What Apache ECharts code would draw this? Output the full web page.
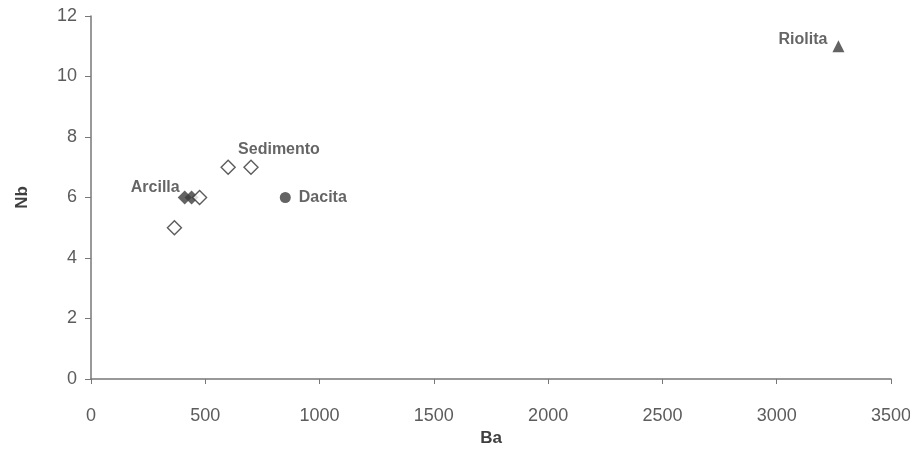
<!DOCTYPE html>
<html><head><meta charset="utf-8">
<script src="https://cdn.jsdelivr.net/npm/echarts@6/dist/echarts.min.js"></script>
<style>html,body{margin:0;padding:0;background:#fff}#c{width:910px;height:472px}</style>
</head><body><div id="c"></div>
<script>
// Data
const sedimentoBa = [365, 475, 600, 700];
const sedimentoNb = [5, 6, 7, 7];
const arcillaBa = [410, 440];
const arcillaNb = [6, 6];
const dacitaBa = [850];
const dacitaNb = [6];
const riolitaBa = [3270];
const riolitaNb = [11];
const xTicks = [0, 500, 1000, 1500, 2000, 2500, 3000, 3500];
const yTicks = [0, 2, 4, 6, 8, 10, 12];

const pair = (xs, ys) => xs.map((x, i) => [x, ys[i]]);
const labelStyle = {show: true, color: '#3f3f3f', fontFamily: 'Liberation Sans', fontWeight: 'bold', fontSize: 16};

const chart = echarts.init(document.getElementById('c'));
chart.setOption({
  animation: false,
  grid: {left: 91, right: 19, top: 16, bottom: 93, containLabel: false, outerBoundsMode: 'none'},
  xAxis: {
    type: 'value', min: xTicks[0], max: xTicks[xTicks.length - 1], interval: 500,
    name: 'Ba', nameLocation: 'middle', nameGap: 51,
    nameTextStyle: {color: '#3f3f3f', fontFamily: 'Liberation Sans', fontWeight: 'bold', fontSize: 17},
    axisLine: {lineStyle: {color: '#777', width: 1.5}},
    axisTick: {show: true, inside: false, length: 5, lineStyle: {color: '#777'}},
    axisLabel: {color: '#5c5c5c', fontFamily: 'Liberation Sans', fontSize: 18, margin: 28, formatter: v => String(v)},
    splitLine: {show: false}
  },
  yAxis: {
    type: 'value', min: yTicks[0], max: yTicks[yTicks.length - 1], interval: 2,
    name: 'Nb', nameLocation: 'middle', nameGap: 60, nameRotate: 90,
    nameTextStyle: {color: '#3f3f3f', fontFamily: 'Liberation Sans', fontWeight: 'bold', fontSize: 17},
    axisLine: {show: true, lineStyle: {color: '#777', width: 1.5}},
    axisTick: {show: true, inside: false, length: 6, lineStyle: {color: '#777'}},
    axisLabel: {color: '#5c5c5c', fontFamily: 'Liberation Sans', fontSize: 18, margin: 14, formatter: v => String(v)},
    splitLine: {show: false}
  },
  series: [
    {
      name: 'Arcilla', type: 'scatter', symbol: 'diamond', symbolSize: 14,
      itemStyle: {color: '#3c3c3c'},
      data: pair(arcillaBa, arcillaNb).map((d, i) => i === 0
        ? {value: d, label: Object.assign({}, labelStyle, {position: 'left', distance: 4, offset: [6, -10], formatter: 'Arcilla'})}
        : {value: d})
    },
    {
      name: 'Sedimento', type: 'scatter', symbol: 'diamond', symbolSize: 14,
      itemStyle: {color: '#fff', borderColor: '#333', borderWidth: 1.4},
      data: pair(sedimentoBa, sedimentoNb).map((d, i) => i === 3
        ? {value: d, label: Object.assign({}, labelStyle, {position: 'top', distance: 4, offset: [28, 2], formatter: 'Sedimento'})}
        : {value: d})
    },
    {
      name: 'Dacita', type: 'scatter', symbol: 'circle', symbolSize: 11,
      itemStyle: {color: '#3c3c3c'},
      label: Object.assign({}, labelStyle, {position: 'right', distance: 8, formatter: 'Dacita'}),
      data: pair(dacitaBa, dacitaNb)
    },
    {
      name: 'Riolita', type: 'scatter', symbol: 'triangle', symbolSize: 12,
      itemStyle: {color: '#3c3c3c'},
      label: Object.assign({}, labelStyle, {position: 'left', distance: 5, offset: [0, -7], formatter: 'Riolita'}),
      data: pair(riolitaBa, riolitaNb)
    }
  ]
});
</script></body></html>
